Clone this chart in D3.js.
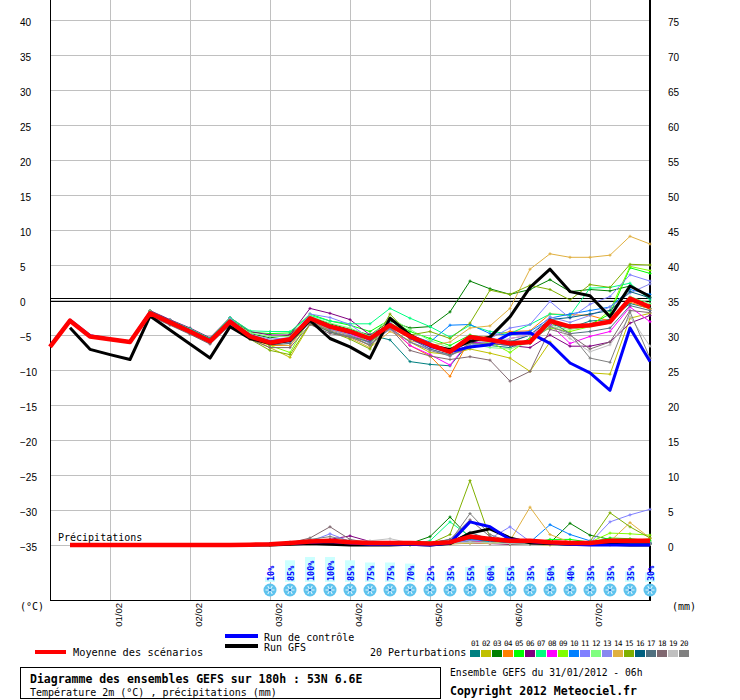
<!DOCTYPE html>
<html>
<head>
<meta charset="utf-8">
<script src="https://cdn.jsdelivr.net/npm/d3@7/dist/d3.min.js"></script>
<style>
  body { margin: 0; background: #fff; }
  svg { display: block; font-family: "DejaVu Sans Mono", "Liberation Mono", monospace; }
</style>
</head>
<body>
<svg id="chart" width="740" height="700"></svg>
<script>
'use strict';

// forecast steps every 6 hours, 0h -> 180h (31/01/2012 06h run)
var stepHours = d3.range(0, 181, 6);

// temperature 2m, from 0h
var tempMean = [-6.7, -2.95, -5.2, -5.6, -6.0, -1.9, -3.2, -4.5, -5.9, -3.1, -5.2, -6.1, -5.6, -2.6, -3.8, -4.5,
  -5.5, -3.6, -5.2, -6.4, -7.4, -5.3, -5.7, -6.2, -6.0, -3.0, -3.8, -3.6, -3.1, 0.2, -1.0];
var tempControl = [-6.6, -2.9, -5.1, -5.6, -6.0, -1.8, -3.1, -4.4, -5.8, -3.0, -5.1, -6.0, -5.6, -2.6, -3.8, -4.6,
  -5.6, -3.5, -5.3, -6.6, -7.4, -6.7, -6.4, -4.8, -4.7, -6.2, -9.0, -10.4, -12.9, -4.0, -8.8];
// GFS run, from 6h
var tempGfs = [-3.95, -7.05, -7.8, -8.5, -2.3, -4.3, -6.3, -8.3, -3.8, -5.5, -6.2, -5.8, -2.9, -5.5, -6.7,
  -8.3, -2.6, -5.0, -6.5, -7.1, -5.9, -5.3, -2.4, 1.8, 4.4, 1.2, 0.6, -2.4, 2.0, 0.5];
// 20 perturbations, from 30h
var tempPerturb = [
  [-2.0, -3.3, -4.6, -6.0, -3.0, -5.0, -5.8, -5.5, -2.8, -4.0, -4.8, -5.0, -5.7, -8.8, -9.2, -9.4, -6.0, -6.5, -6.8, -5.5, -3.5, -4.0, -3.0, -2.8, -0.5, -1.2],
  [-1.8, -3.1, -4.4, -5.8, -3.2, -5.5, -6.8, -8.2, -3.5, -4.2, -5.0, -6.5, -4.0, -6.0, -7.5, -7.8, -7.0, -7.6, -8.3, -10.2, -6.0, -9.0, -10.4, -10.6, -2.6, -1.9],
  [-1.7, -3.0, -4.3, -5.6, -2.8, -4.8, -5.4, -5.0, -2.4, -3.4, -4.2, -5.0, -3.0, -4.0, -3.8, -1.7, 2.7, 1.6, 0.8, 1.5, 2.9, 1.2, 1.5, 1.3, 2.0, 0.4],
  [-2.0, -3.3, -4.6, -6.1, -3.3, -5.5, -6.5, -6.5, -3.0, -4.2, -5.0, -6.0, -4.0, -6.5, -8.0, -10.9, -5.5, -5.2, -4.5, -4.4, -2.0, -2.1, -2.2, -3.0, -0.3, -1.3],
  [-1.6, -2.9, -4.2, -5.5, -2.7, -4.6, -4.8, -4.7, -2.0, -3.0, -3.6, -4.5, -2.8, -4.5, -5.5, -6.5, -5.0, -5.5, -6.0, -6.2, -3.5, -3.6, -3.5, -2.0, 4.6, 3.8],
  [-1.5, -2.8, -4.0, -5.4, -2.5, -4.5, -5.0, -5.0, -1.2, -1.9, -2.8, -5.0, -3.5, -5.5, -6.5, -7.0, -6.0, -6.2, -6.5, -6.8, -5.0, -6.6, -6.6, -6.0, -3.3, -2.2],
  [-1.6, -2.9, -4.1, -5.5, -2.5, -4.4, -4.5, -4.5, -2.2, -3.0, -3.4, -3.4, -1.2, -2.6, -3.8, -5.3, -3.6, -4.5, -4.8, -3.5, -2.0, -2.2, 1.7, 1.8, 2.4, 0.0],
  [-1.9, -3.2, -4.5, -5.9, -3.0, -5.0, -5.8, -5.8, -2.7, -3.9, -4.8, -6.0, -3.8, -6.5, -7.8, -9.3, -5.8, -6.5, -5.5, -5.0, -3.5, -6.2, -5.2, -4.5, -1.0, -3.1],
  [-1.6, -3.0, -4.4, -5.8, -2.8, -5.2, -6.5, -7.5, -2.6, -3.8, -4.4, -6.2, -3.2, -5.0, -6.2, -7.5, -6.5, -6.0, -7.5, -5.5, -4.0, -4.5, -3.8, -1.5, 4.8, 4.2],
  [-1.8, -3.1, -4.4, -5.8, -3.0, -5.1, -5.9, -5.5, -2.8, -3.7, -4.4, -5.8, -3.5, -5.0, -6.0, -3.6, -3.5, -4.8, -5.0, -4.5, -2.6, -2.0, -1.5, -1.0, 1.5, 0.8],
  [-1.7, -3.0, -4.3, -5.7, -2.7, -4.9, -5.6, -5.4, -2.0, -2.5, -3.5, -5.5, -3.2, -5.5, -6.5, -7.5, -6.0, -5.5, -4.0, -3.5, -0.2, -2.6, -0.6, 0.5, 3.6, 2.7],
  [-1.8, -3.1, -4.4, -5.8, -2.9, -4.7, -5.2, -5.2, -2.3, -3.3, -4.0, -5.2, -2.5, -4.2, -5.8, -6.8, -6.2, -6.8, -7.0, -6.0, -3.8, -4.2, -3.8, -3.3, 0.5, -0.5],
  [-1.9, -3.2, -4.5, -5.9, -3.1, -5.3, -6.2, -6.0, -2.8, -4.2, -5.0, -6.2, -4.2, -6.0, -7.0, -8.0, -6.5, -5.8, -6.0, -5.0, -2.4, -3.2, -2.2, -1.0, 1.0, 2.3],
  [-2.1, -3.4, -4.7, -6.1, -3.3, -5.5, -6.3, -6.5, -3.0, -4.5, -5.4, -6.8, -4.5, -5.8, -6.5, -6.0, -4.0, -3.7, -1.2, 4.4, 6.6, 6.1, 6.1, 6.4, 9.1, 8.0],
  [-1.9, -3.2, -4.6, -6.0, -3.2, -5.6, -7.2, -7.8, -3.4, -4.5, -5.6, -7.0, -2.0, -5.0, -4.5, -5.5, -3.3, 1.4, 0.8, 2.1, 1.5, 0.0, 2.2, 1.8, 5.1, 5.0],
  [-2.0, -3.3, -4.6, -6.0, -3.1, -5.0, -6.0, -5.7, -2.9, -4.0, -4.6, -5.6, -3.8, -5.3, -6.4, -7.2, -5.5, -5.5, -6.0, -5.0, -2.8, -2.5, -2.0, -1.5, 1.2, 0.3],
  [-2.2, -3.5, -4.8, -6.2, -3.4, -5.4, -6.4, -6.2, -3.2, -4.6, -5.2, -6.0, -3.5, -5.5, -7.0, -7.8, -6.8, -6.2, -6.5, -6.2, -3.0, -4.8, -4.5, -4.0, -0.8, -1.5],
  [-2.3, -3.6, -4.9, -6.3, -3.6, -5.6, -6.8, -6.8, -3.5, -4.8, -5.3, -6.4, -4.0, -7.2, -8.0, -8.5, -8.1, -8.6, -11.6, -10.2, -4.2, -5.0, -7.0, -6.0, -1.5, -1.8],
  [-1.8, -3.1, -4.3, -5.7, -2.9, -4.9, -5.7, -5.6, -2.6, -3.8, -4.5, -5.6, -3.8, -5.3, -6.3, -7.0, -5.8, -6.0, -5.5, -5.0, -3.2, -5.5, -7.4, -6.4, -2.4, -6.6],
  [-2.0, -3.3, -4.6, -6.0, -3.2, -5.2, -6.0, -5.9, -3.0, -4.4, -5.2, -6.5, -4.0, -6.0, -7.2, -8.0, -6.2, -6.3, -5.8, -6.0, -3.8, -4.8, -8.3, -8.9, -1.7, -8.3]
];

// precipitation (mm / 6h), from 6h
var precipMean = [0, 0, 0, 0, 0, 0, 0, 0, 0, 0.05, 0.1, 0.3, 0.5, 0.6, 0.4, 0.3, 0.3, 0.3, 0.2, 0.4, 1.2, 0.85,
  0.6, 0.6, 0.4, 0.3, 0.3, 0.6, 0.6, 0.6];
var precipControl = [0, 0, 0, 0, 0, 0, 0, 0, 0, 0, 0.1, 0.2, 0.4, 0.5, 0.3, 0.1, 0.1, 0.1, 0, 0.3, 3.3, 2.6,
  0.8, 0.5, 0.3, 0.1, 0, 0, 0, 0];
var precipGfs = [0, 0, 0, 0, 0, 0, 0, 0, 0, 0, 0, 0.1, 0.2, 0.1, 0, 0, 0, 0.1, 0, 0.2, 1.7, 2.3, 1.0, 0.3, 0.2,
  0.1, 0.1, 0.1, 0, 0];
// perturbations, from 60h
var precipPerturb = [
  [0, 0.2, 0.4, 0.6, 0.5, 0.3, 0.2, 0.2, 0.1, 0.3, 0.8, 0.5, 0.3, 0.2, 0.1, 0.2, 0.1, 0.1, 0.3, 0.2, 0.4],
  [0, 0.1, 0.2, 0.3, 0.4, 0.2, 0.1, 0.1, 0, 0.1, 0.2, 0.5, 0.3, 0.1, 0.1, 0, 0.2, 0.1, 0, 0.6, 0.9],
  [0, 0.1, 0.2, 0.4, 0.3, 0.2, 0.1, 0.1, 0.2, 1.2, 4.0, 1.0, 0.5, 0.3, 0.2, 0.3, 3.1, 1.4, 0.8, 0.5, 0.3],
  [0, 0, 0.1, 0.3, 0.4, 0.2, 0.1, 0.1, 0.1, 0, 0.2, 0.4, 0.3, 0.2, 0.3, 0.2, 0.1, 0.1, 0.4, 0.5, 0.3],
  [0, 0.1, 0.2, 0.3, 0.3, 0.2, 0.1, 0.1, 0, 0.1, 0.3, 0.6, 0.4, 0.2, 0.2, 0.8, 0.8, 0.4, 1.0, 0.9, 0.6],
  [0, 0.1, 0.3, 0.6, 0.8, 1.3, 0.5, 0.2, 0.1, 0.1, 0.2, 0.3, 0.2, 0.1, 0.1, 0.2, 0.1, 0.1, 0.2, 0.3, 0.2],
  [0, 0, 0.1, 0.3, 0.4, 0.3, 0.2, 0.2, 0.1, 0.6, 3.3, 1.2, 0.4, 0.2, 0.3, 0.2, 0.3, 0.2, 0.4, 0.3, 0.2],
  [0, 0.1, 0.2, 0.4, 0.3, 0.4, 0.5, 0.4, 0.2, 0.1, 0.3, 0.4, 0.6, 0.3, 0.2, 0.1, 0.2, 0.1, 0.2, 0.3, 0.2],
  [0, 0, 0.1, 0.2, 0.3, 0.2, 0.2, 0.1, 0.1, 0.1, 0.2, 0.3, 0.5, 0.2, 0.2, 0.4, 0.5, 0.4, 1.7, 1.6, 1.4],
  [0, 0.1, 0.2, 0.4, 0.6, 0.3, 0.2, 0.1, 0.1, 0.1, 0.4, 0.8, 0.5, 0.3, 0.4, 2.9, 1.5, 0.6, 0.2, 0.3, 0.2],
  [0, 0.1, 0.3, 0.5, 1.6, 0.5, 0.3, 0.2, 0.1, 0.1, 0.3, 0.6, 0.9, 2.6, 0.5, 0.4, 0.3, 0.3, 3.3, 4.3, 5.1],
  [0, 0, 0.1, 0.2, 0.3, 0.2, 0.1, 0.3, 0.2, 0.1, 0.2, 0.4, 0.3, 0.2, 0.1, 0.2, 0.2, 0.5, 0.3, 0.6, 0.4],
  [0, 0.1, 0.2, 0.3, 0.5, 0.3, 0.2, 0.2, 0.1, 0.1, 0.3, 0.7, 1.0, 0.4, 0.2, 0.3, 0.2, 0.2, 0.3, 0.5, 0.3],
  [0, 0, 0.1, 0.2, 0.3, 0.2, 0.2, 0.1, 0.1, 0, 0.1, 0.3, 0.2, 0.6, 5.4, 1.5, 0.4, 0.2, 0.5, 3.2, 1.0],
  [0, 0, 0.1, 0.3, 0.4, 0.3, 0.2, 0.1, 0.1, 0.2, 1.5, 9.2, 1.0, 0.4, 0.2, 0.2, 0.3, 0.5, 4.6, 2.6, 1.0],
  [0, 0.1, 0.3, 0.5, 0.7, 0.4, 0.2, 0.1, 0.1, 0.1, 0.3, 0.9, 0.6, 0.3, 0.2, 0.2, 0.1, 0.2, 0.3, 0.2, 0.2],
  [0, 0.1, 0.2, 0.6, 0.5, 0.3, 0.2, 0.2, 0.1, 0.1, 0.4, 1.8, 0.8, 0.3, 0.2, 0.2, 0.1, 0.2, 0.3, 0.2, 0.1],
  [0, 0.1, 0.3, 1.0, 2.6, 0.8, 0.3, 0.2, 0.1, 0.2, 0.8, 3.6, 1.2, 0.3, 0.2, 0.1, 0.2, 0.1, 0.1, 0.2, 0.1],
  [0, 0, 0.1, 0.3, 0.4, 0.5, 0.6, 0.9, 0.3, 0.1, 0.2, 0.4, 0.3, 0.2, 0.1, 0.2, 0.1, 0.1, 0.2, 0.1, 0.1],
  [0, 0.1, 0.3, 0.8, 1.2, 0.6, 0.3, 0.2, 0.1, 0.1, 0.5, 4.5, 1.5, 0.4, 0.2, 0.1, 0.1, 0.2, 0.3, 0.2, 0.1]
];

// snow probability, from 66h
var snowPct = [10, 85, 100, 100, 85, 75, 75, 70, 25, 35, 55, 60, 55, 35, 50, 40, 35, 35, 35, 30];

var memberIds = ['01', '02', '03', '04', '05', '06', '07', '08', '09', '10',
  '11', '12', '13', '14', '15', '16', '17', '18', '19', '20'];
var memberColors = ['#008080', '#c0c000', '#008000', '#ff8000', '#00ff00', '#800080', '#00ff80', '#ff00ff',
  '#80ff00', '#0080ff', '#8080ff', '#80ff80', '#8888f0', '#e0b040', '#80b000', '#006080', '#507080',
  '#806870', '#c0c0c0', '#808080'];

var dayHours = [18, 42, 66, 90, 114, 138, 162];
var dayLabels = ['01/02', '02/02', '03/02', '04/02', '05/02', '06/02', '07/02'];
var tempTicks = d3.range(-35, 41, 5);
var precipTicks = d3.range(0, 76, 5);

var svg = d3.select('#chart');

var x = d3.scaleLinear().domain([0, 180]).range([50, 650]);
var y = d3.scaleLinear().domain([-35, 40]).range([545, 20]);
var yP = d3.scaleLinear().domain([0, 75]).range([545, 20]);

// horizontal grid + left labels
var gLeft = svg.append('g')
    .attr('transform', 'translate(50,0)')
    .call(d3.axisLeft(y).tickValues(tempTicks).tickSize(-600).tickFormat(d3.format('d')));
gLeft.select('.domain').remove();
gLeft.selectAll('line').attr('stroke', '#c0c0c0');
gLeft.selectAll('text')
    .attr('x', -30).attr('dy', '0.55em')
    .style('text-anchor', 'start').style('font-size', '10px').attr('fill', '#000');

// right labels (precipitation mm)
var gRight = svg.append('g')
    .attr('transform', 'translate(650,0)')
    .call(d3.axisRight(yP).tickValues(precipTicks).tickSize(0).tickFormat(d3.format('d')));
gRight.select('.domain').remove();
gRight.selectAll('text')
    .attr('x', 18).attr('dy', '0.55em')
    .style('font-size', '10px').attr('fill', '#000');

// vertical day grid + rotated date labels
var gDays = svg.append('g')
    .attr('transform', 'translate(0,600)')
    .call(d3.axisBottom(x).tickValues(dayHours).tickSize(-600).tickFormat(function (d, i) { return dayLabels[i]; }));
gDays.select('.domain').remove();
gDays.selectAll('line').attr('stroke', '#c0c0c0');
gDays.selectAll('text')
    .attr('transform', 'rotate(-90)')
    .attr('x', -3).attr('y', 11).attr('dy', null)
    .style('text-anchor', 'end').style('font-size', '9.5px').attr('fill', '#000');

// frame
svg.append('line').attr('x1', 50.5).attr('x2', 50.5).attr('y1', 0).attr('y2', 600).attr('stroke', '#000');
svg.append('line').attr('x1', 50).attr('x2', 651).attr('y1', 600.5).attr('y2', 600.5).attr('stroke', '#000');
svg.append('line').attr('x1', 650).attr('x2', 650).attr('y1', 0).attr('y2', 601).attr('stroke', '#000').attr('stroke-width', 2);

// 0 degC double line
[-1.5, 1.5].forEach(function (off) {
  svg.append('line').attr('x1', 50).attr('x2', 650)
      .attr('y1', y(0) + off).attr('y2', y(0) + off)
      .attr('stroke', '#000');
});

function pts(values, startIdx) {
  return values.map(function (v, i) { return { h: stepHours[startIdx + i], v: v }; });
}
var tLine = d3.line().x(function (d) { return x(d.h); }).y(function (d) { return y(d.v); });
var pLine = d3.line().x(function (d) { return x(d.h); }).y(function (d) { return yP(d.v); });
var cross = 'M-1.5,0H1.5M0,-1.5V1.5';

function drawMembers(series, startIdx, lineGen, yScale) {
  series.forEach(function (vals, k) {
    var data = pts(vals, startIdx);
    var g = svg.append('g');
    g.append('path').datum(data).attr('d', lineGen)
        .attr('fill', 'none').attr('stroke', memberColors[k]).attr('stroke-width', 1);
    g.selectAll('path.m').data(data).enter().append('path')
        .attr('class', 'm')
        .attr('transform', function (d) { return 'translate(' + x(d.h) + ',' + yScale(d.v) + ')'; })
        .attr('d', cross).attr('stroke', memberColors[k]).attr('stroke-width', 1);
  });
}

function drawMain(vals, startIdx, lineGen, color, width) {
  svg.append('path').datum(pts(vals, startIdx)).attr('d', lineGen)
      .attr('fill', 'none').attr('stroke', color).attr('stroke-width', width)
      .attr('stroke-linejoin', 'round');
}

// temperature
drawMembers(tempPerturb, 5, tLine, y);
drawMain(tempGfs, 1, tLine, '#000', 3);
drawMain(tempControl, 0, tLine, '#0000ff', 3);
drawMain(tempMean, 0, tLine, '#ff0000', 4.5);

// precipitation
svg.append('text').attr('x', 58).attr('y', 541).style('font-size', '10px').text('Précipitations');
drawMembers(precipPerturb, 10, pLine, yP);
drawMain(precipGfs, 1, pLine, '#000', 3);
drawMain(precipControl, 1, pLine, '#0000ff', 3);
drawMain(precipMean, 1, pLine, '#ff0000', 4.5);

// snow probability labels + flakes
var snowHours = snowPct.map(function (p, i) { return 66 + 6 * i; });
var gSnow = svg.selectAll('g.snow').data(snowPct).enter().append('g')
    .attr('class', 'snow')
    .attr('transform', function (d, i) { return 'translate(' + x(snowHours[i]) + ',0)'; });
gSnow.append('rect')
    .attr('x', -5).attr('width', 10)
    .attr('y', function (d) { return 582 - (3 + 0.22 * d); })
    .attr('height', function (d) { return 3 + 0.22 * d; })
    .attr('fill', '#ccffff');
gSnow.append('text')
    .attr('transform', 'translate(3.5,581) rotate(-90)')
    .style('font-size', '8.5px').style('font-weight', 'bold')
    .attr('fill', '#0000ff')
    .text(function (d) { return d + '%'; });
gSnow.append('circle').attr('cy', 590).attr('r', 6.5).attr('fill', '#5ec3ee');
[0, 60, 120].forEach(function (a) {
  gSnow.append('line')
      .attr('x1', -4.5).attr('x2', 4.5).attr('y1', 0).attr('y2', 0)
      .attr('transform', 'translate(0,590) rotate(' + a + ')')
      .attr('stroke', '#e8f8ff').attr('stroke-width', 1);
});
gSnow.append('circle').attr('cy', 590).attr('r', 1.3).attr('fill', '#2a7fd0');

// axis unit labels
svg.append('text').attr('x', 20).attr('y', 610).style('font-size', '10px').text('(°C)');
svg.append('text').attr('x', 672).attr('y', 610).style('font-size', '10px').text('(mm)');

// legend
svg.append('line').attr('x1', 35).attr('x2', 66).attr('y1', 652).attr('y2', 652).attr('stroke', '#ff0000').attr('stroke-width', 4);
svg.append('text').attr('x', 73).attr('y', 656).style('font-size', '10.3px').text('Moyenne des scénarios');
svg.append('line').attr('x1', 225).attr('x2', 258).attr('y1', 636).attr('y2', 636).attr('stroke', '#0000ff').attr('stroke-width', 4);
svg.append('line').attr('x1', 225).attr('x2', 258).attr('y1', 646).attr('y2', 646).attr('stroke', '#000').attr('stroke-width', 4);
svg.append('text').attr('x', 264).attr('y', 641).style('font-size', '10px').text('Run de contrôle');
svg.append('text').attr('x', 264).attr('y', 651).style('font-size', '10px').text('Run GFS');
svg.append('text').attr('x', 370).attr('y', 656).style('font-size', '10px').text('20 Perturbations');

var gSw = svg.selectAll('g.sw').data(memberIds).enter().append('g')
    .attr('class', 'sw')
    .attr('transform', function (d, i) { return 'translate(' + (470 + 11 * i) + ',0)'; });
gSw.append('rect').attr('y', 650).attr('width', 10).attr('height', 7)
    .attr('fill', function (d, i) { return memberColors[i]; });
gSw.append('text').attr('x', 5).attr('y', 646).style('text-anchor', 'middle')
    .style('font-size', '7.5px').style('letter-spacing', '-0.5px').text(function (d) { return d; });

// title box
svg.append('rect').attr('x', 20.5).attr('y', 667.5).attr('width', 420).attr('height', 31)
    .attr('fill', 'none').attr('stroke', '#000');
svg.append('text').attr('x', 30).attr('y', 683).style('font-size', '11.5px').style('font-weight', 'bold')
    .text('Diagramme des ensembles GEFS sur 180h : 53N 6.6E');
svg.append('text').attr('x', 30).attr('y', 696).style('font-size', '10px')
    .text('Température 2m (°C) , précipitations (mm)');
svg.append('text').attr('x', 450).attr('y', 676).style('font-size', '9.7px')
    .text('Ensemble GEFS du 31/01/2012 - 06h');
svg.append('text').attr('x', 450).attr('y', 695).style('font-size', '11.5px').style('font-weight', 'bold')
    .text('Copyright 2012 Meteociel.fr');
</script>
</body>
</html>
